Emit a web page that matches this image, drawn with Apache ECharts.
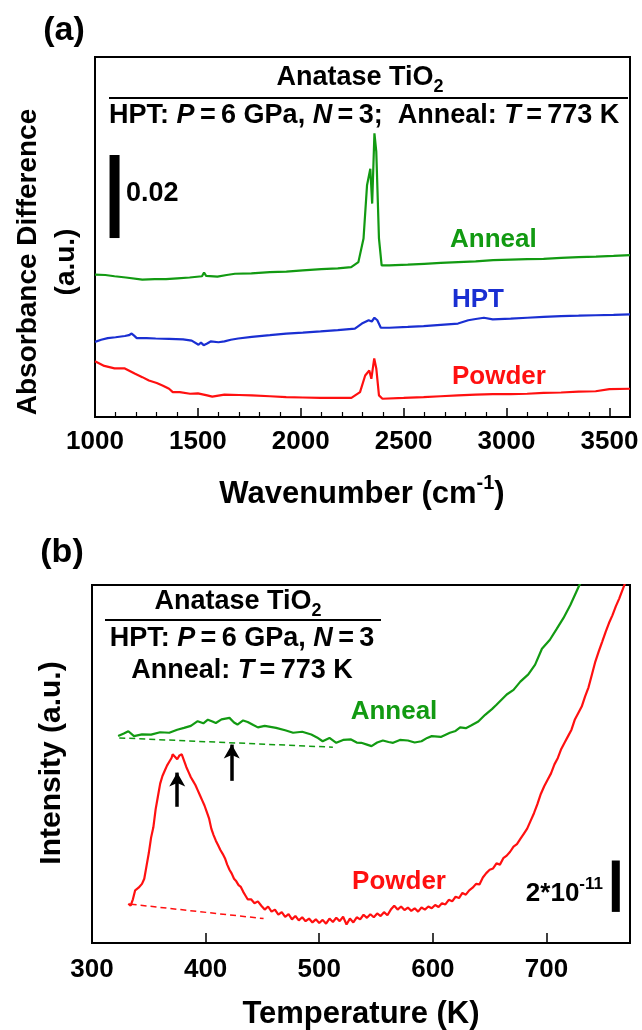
<!DOCTYPE html>
<html><head><meta charset="utf-8">
<script src="https://cdn.jsdelivr.net/npm/echarts@6/dist/echarts.min.js"></script>
<style>html,body{margin:0;padding:0;background:#fff}#c{width:642px;height:1030px}</style>
</head><body><div id="c"></div>
<script>
// ---------- Panel (a): absorbance difference vs wavenumber ----------
const aAnnealX = [1000,1050,1095,1150,1230,1290,1345,1400,1460,1520,1530,1540,1595,1640,1680,1760,1850,1930,2010,2100,2180,2245,2280,2305,2322,2338,2347,2358,2367,2380,2393,2430,2520,2600,2680,2765,2850,2935,3020,3100,3180,3265,3350,3435,3520,3600];
const aAnnealY = [0.0343,0.0342,0.0339,0.0336,0.0331,0.0332,0.0332,0.0334,0.0336,0.0339,0.0348,0.0340,0.0338,0.0342,0.0345,0.0346,0.0349,0.0350,0.0353,0.0356,0.0358,0.0361,0.0373,0.0430,0.0558,0.0598,0.0514,0.0683,0.0639,0.0430,0.0365,0.0365,0.0367,0.0369,0.0371,0.0373,0.0375,0.0378,0.0379,0.0380,0.0381,0.0383,0.0385,0.0386,0.0388,0.0390];
const aHptX = [1000,1030,1062,1100,1145,1165,1178,1190,1203,1250,1295,1360,1428,1470,1503,1515,1528,1545,1562,1600,1629,1660,1696,1762,1850,1929,2010,2096,2180,2263,2297,2330,2345,2358,2372,2389,2430,2520,2597,2680,2764,2814,2850,2890,2933,3020,3100,3180,3265,3350,3433,3520,3600];
const aHptY = [0.0181,0.0186,0.0190,0.0192,0.0195,0.0197,0.0201,0.0196,0.0190,0.0190,0.0189,0.0188,0.0187,0.0184,0.0174,0.0179,0.0173,0.0177,0.0182,0.0180,0.0182,0.0186,0.0189,0.0193,0.0197,0.0201,0.0203,0.0206,0.0209,0.0213,0.0225,0.0233,0.0230,0.0239,0.0233,0.0215,0.0215,0.0217,0.0219,0.0222,0.0225,0.0233,0.0236,0.0239,0.0235,0.0237,0.0239,0.0241,0.0243,0.0244,0.0245,0.0246,0.0247];
const aPowderX = [1000,1045,1095,1145,1195,1230,1262,1300,1328,1360,1378,1412,1462,1500,1545,1570,1629,1700,1762,1850,1929,2010,2096,2180,2246,2288,2313,2333,2343,2357,2367,2380,2397,2500,2597,2680,2764,2850,2933,3020,3100,3180,3265,3350,3433,3500,3600];
const aPowderY = [0.0134,0.0123,0.0117,0.0117,0.0104,0.0096,0.0088,0.0082,0.0076,0.0068,0.0060,0.0060,0.0056,0.0057,0.0052,0.0049,0.0054,0.0053,0.0052,0.0050,0.0048,0.0047,0.0046,0.0046,0.0046,0.0060,0.0100,0.0112,0.0092,0.0141,0.0117,0.0052,0.0044,0.0046,0.0048,0.0050,0.0052,0.0054,0.0055,0.0055,0.0056,0.0058,0.0059,0.0061,0.0062,0.0067,0.0068];
const aScaleBarX = [1095,1095];
const aScaleBarY = [0.0431,0.0631];   // 0.02
const aTicks = [1000,1500,2000,2500,3000,3500];

// ---------- Panel (b): TDS intensity vs temperature (units of 1e-11) ----------
const bAnnealX = [323,328,332,337,344,352,360,368,375,381,387,393,398,402,406,409,414,421,425,428,433,437,442,446,452,462,470,477,485,493,498,503,509,515,521,528,533,537,542,546,551,556,561,565,571,578,584,590,595,599,607,615,620,624,629,634,640,646,652,656,665,671,677,684,690,696,703,709,715,721,729,740];
const bAnnealY = [8.05,8.15,8.24,8.05,8.12,8.11,8.20,8.18,8.30,8.37,8.45,8.63,8.55,8.69,8.62,8.56,8.70,8.76,8.58,8.50,8.66,8.60,8.48,8.39,8.45,8.37,8.28,8.18,8.22,8.11,8.00,7.85,7.98,7.79,7.90,7.92,7.80,7.79,7.72,7.66,7.80,7.88,7.82,7.79,7.90,7.88,7.80,7.85,7.98,8.05,8.02,8.18,8.25,8.39,8.36,8.47,8.62,8.88,9.10,9.27,9.67,9.85,10.17,10.45,10.83,11.45,11.80,12.22,12.65,13.15,13.93,14.80];
const bPowderX = [332,334,336,338,341,344,346,348,350,352,354,356,358,360,362,364,366,368,370,371,373,375,377,379,381,383,385,387,389,391,393,395,397,399,401,403,405,407,409,411,413,415,417,419,421,423,425,427,429,431,433,435,437,440,443,446,449,452,455,458,461,464,467,470,473,476,479,482,485,488,491,494,497,500,503,506,509,512,515,518,521,524,527,530,533,536,539,542,545,548,551,554,557,560,563,566,569,572,575,578,581,584,587,590,593,596,599,602,605,608,611,614,617,620,623,626,629,632,635,638,641,644,647,650,653,656,659,662,665,668,671,674,677,680,683,686,689,692,695,698,701,704,707,710,713,716,719,722,725,728,731,734,737,740,743,746,749,752,755,758,761,764,767,770,773.5];
const bPowderY = [1.53,1.45,1.70,2.05,2.15,2.30,2.50,3.00,3.50,4.10,4.50,5.20,5.70,6.20,6.50,6.70,6.90,7.05,7.20,7.34,7.25,7.15,7.30,7.34,7.10,6.85,6.65,6.45,6.30,6.15,5.95,5.75,5.55,5.35,5.10,4.85,4.45,4.20,3.98,3.80,3.62,3.47,3.30,3.05,2.85,2.70,2.50,2.40,2.25,2.18,2.00,1.85,1.70,1.70,1.55,1.62,1.45,1.30,1.42,1.22,1.30,1.10,1.20,1.02,1.12,0.92,1.05,0.88,1.00,0.85,0.95,0.80,0.92,0.78,0.90,0.75,0.95,0.82,0.98,0.85,1.02,0.72,0.95,0.80,1.00,0.92,1.10,0.98,1.12,1.00,1.15,1.05,1.20,1.08,1.30,1.45,1.30,1.42,1.28,1.38,1.25,1.35,1.22,1.38,1.30,1.42,1.35,1.48,1.40,1.55,1.50,1.68,1.62,1.80,1.75,1.95,1.88,2.05,2.15,2.30,2.28,2.55,2.72,2.85,2.90,3.10,3.05,3.30,3.40,3.55,3.75,3.85,4.05,4.25,4.45,4.75,5.05,5.40,5.80,6.10,6.35,6.60,6.95,7.20,7.55,7.80,8.05,8.30,8.70,8.95,9.20,9.60,9.95,10.45,10.95,11.35,11.72,12.10,12.45,12.75,13.10,13.40,13.75,14.10,14.40];
const bAnnealBaseX = [324,512];
const bAnnealBaseY = [7.98,7.62];
const bPowderBaseX = [334,451];
const bPowderBaseY = [1.51,0.95];
const bArrowX = [375,423];
const bArrowTail = [5.30,6.31];
const bArrowHead = [6.63,7.72];
const bScaleBarX = [761,761];
const bScaleBarY = [1.21,3.21];     // 2*10^-11
const bTicks = [300,400,500,600,700];

const zip = (xs, ys) => xs.map((x, i) => [x, ys[i]]);

const GREEN = '#129a12', BLUE = '#1a2fd2', RED = '#ff1010';
const FONT = '"Liberation Sans", Arial, Helvetica, sans-serif';

function rich(fs, color) {
  const c = color || '#000';
  const lh = fs + 10;
  const sm = Math.round(fs * 0.66);
  return {
    n: {fontSize: fs, fontWeight: 'bold', fontFamily: FONT, fill: c, color: c, lineHeight: lh},
    i: {fontSize: fs, fontWeight: 'bold', fontStyle: 'italic', fontFamily: FONT, fill: c, color: c, lineHeight: lh},
    sub: {fontSize: sm, fontWeight: 'bold', fontFamily: FONT, fill: c, color: c, verticalAlign: 'bottom', lineHeight: lh},
    sup: {fontSize: sm, fontWeight: 'bold', fontFamily: FONT, fill: c, color: c, verticalAlign: 'top', lineHeight: lh}
  };
}
function txt(x, y, text, fs, opts) {
  opts = opts || {};
  return {
    type: 'text', x: x, y: y, rotation: opts.rotation || 0, z: 100,
    style: {
      text: text, rich: rich(fs, opts.color),
      font: 'bold ' + fs + 'px ' + FONT, fill: opts.color || '#000',
      align: opts.align || 'center', verticalAlign: 'middle',
      lineHeight: opts.lineHeight || fs + 10
    }
  };
}
function hline(x1, x2, y) {
  return {type: 'line', z: 100, shape: {x1: x1, y1: y, x2: x2, y2: y}, style: {stroke: '#000', lineWidth: 2}};
}

const A = {left: 95, top: 57, right: 12, bottom: 1030 - 417};
const B = {left: 92, top: 585, right: 12, bottom: 1030 - 943};

const axisLabel = {fontSize: 26, fontWeight: 'bold', fontFamily: FONT, color: '#000', showMaxLabel: false};
const LW = 2.2;

const option = {
  animation: false,
  backgroundColor: '#fff',
  grid: [
    Object.assign({show: true, borderColor: '#000', borderWidth: 2, containLabel: false}, A),
    Object.assign({show: true, borderColor: '#000', borderWidth: 2, containLabel: false}, B)
  ],
  xAxis: [
    {gridIndex: 0, type: 'value', min: 1000, max: 3600, interval: 500,
     axisLine: {show: true, lineStyle: {color: '#000', width: 2}},
     axisTick: {show: true, inside: true, length: 9, lineStyle: {color: '#000', width: 1.5}},
     minorTick: {show: true, splitNumber: 5, length: 5, lineStyle: {color: '#000', width: 1.2}},
     splitLine: {show: false}, minorSplitLine: {show: false},
     axisLabel: Object.assign({margin: 12, formatter: v => aTicks.includes(v) ? String(v) : ''}, axisLabel)},
    {gridIndex: 1, type: 'value', min: 300, max: 773.5, interval: 100,
     axisLine: {show: true, lineStyle: {color: '#000', width: 2}},
     axisTick: {show: true, inside: true, length: 10, lineStyle: {color: '#000', width: 1.5}},
     splitLine: {show: false},
     axisLabel: Object.assign({margin: 14, formatter: v => bTicks.includes(v) ? String(v) : ''}, axisLabel)}
  ],
  yAxis: [
    {gridIndex: 0, type: 'value', min: 0, max: 0.0867, axisLine: {show: false}, axisTick: {show: false}, axisLabel: {show: false}, splitLine: {show: false}},
    {gridIndex: 1, type: 'value', min: 0, max: 13.93, axisLine: {show: false}, axisTick: {show: false}, axisLabel: {show: false}, splitLine: {show: false}}
  ],
  series: [
    {type: 'line', xAxisIndex: 0, yAxisIndex: 0, data: zip(aAnnealX, aAnnealY), showSymbol: false, lineStyle: {color: GREEN, width: LW}},
    {type: 'line', xAxisIndex: 0, yAxisIndex: 0, data: zip(aHptX, aHptY), showSymbol: false, lineStyle: {color: BLUE, width: LW}},
    {type: 'line', xAxisIndex: 0, yAxisIndex: 0, data: zip(aPowderX, aPowderY), showSymbol: false, lineStyle: {color: RED, width: LW}},
    {type: 'line', xAxisIndex: 0, yAxisIndex: 0, data: zip(aScaleBarX, aScaleBarY), showSymbol: false, lineStyle: {color: '#000', width: 10, cap: 'butt'}},

    {type: 'line', xAxisIndex: 1, yAxisIndex: 1, data: zip(bAnnealX, bAnnealY), showSymbol: false, lineStyle: {color: GREEN, width: LW}},
    {type: 'line', xAxisIndex: 1, yAxisIndex: 1, data: zip(bPowderX, bPowderY), showSymbol: false, lineStyle: {color: RED, width: LW}},
    {type: 'line', xAxisIndex: 1, yAxisIndex: 1, data: zip(bAnnealBaseX, bAnnealBaseY), showSymbol: false, lineStyle: {color: GREEN, width: 1.5, type: [6, 4]}},
    {type: 'line', xAxisIndex: 1, yAxisIndex: 1, data: zip(bPowderBaseX, bPowderBaseY), showSymbol: false, lineStyle: {color: RED, width: 1.5, type: [6, 4]}},
    {type: 'line', xAxisIndex: 1, yAxisIndex: 1, data: zip(bScaleBarX, bScaleBarY), showSymbol: false, lineStyle: {color: '#000', width: 8, cap: 'butt'}},
    {type: 'line', xAxisIndex: 1, yAxisIndex: 1, data: [], showSymbol: false,
     markLine: {silent: true, symbol: ['none', 'arrow'], symbolSize: [12, 14], label: {show: false},
       lineStyle: {color: '#000', width: 3.5, type: 'solid'},
       data: bArrowX.map((x, i) => [{coord: [x, bArrowTail[i]]}, {coord: [x, bArrowHead[i]]}])}}
  ],
  graphic: [
    // panel (a)
    txt(64, 31, '{n|(a)}', 34),
    txt(360, 78, '{n|Anatase TiO}{sub|2}', 27),
    hline(109, 628, 98),
    txt(109, 116, '{n|HPT: }{i|P}{n|\u2009=\u20096 GPa, }{i|N}{n|\u2009=\u20093;  Anneal: }{i|T}{n|\u2009=\u2009773 K}', 27, {align: 'left'}),
    txt(126, 194, '{n|0.02}', 27, {align: 'left'}),
    txt(450, 240, '{n|Anneal}', 26, {align: 'left', color: GREEN}),
    txt(452, 300, '{n|HPT}', 26, {align: 'left', color: BLUE}),
    txt(452, 377, '{n|Powder}', 26, {align: 'left', color: RED}),
    txt(362, 494, '{n|Wavenumber (cm}{sup|-1}{n|)}', 31),
    txt(47, 262, '{n|Absorbance Difference}\n{n|(a.u.)}', 28, {rotation: Math.PI / 2, lineHeight: 37}),
    // panel (b)
    txt(62, 553, '{n|(b)}', 34),
    txt(238, 602, '{n|Anatase TiO}{sub|2}', 27),
    hline(105, 381, 620),
    txt(242, 639, '{n|HPT: }{i|P}{n|\u2009=\u20096 GPa, }{i|N}{n|\u2009=\u20093}', 27),
    txt(242, 671, '{n|Anneal: }{i|T}{n|\u2009=\u2009773 K}', 27),
    txt(394, 712, '{n|Anneal}', 26, {color: GREEN}),
    txt(399, 882, '{n|Powder}', 26, {color: RED}),
    txt(603, 894, '{n|2*10}{sup|-11}', 26, {align: 'right'}),
    txt(361, 1014, '{n|Temperature (K)}', 31),
    txt(52, 763, '{n|Intensity (a.u.)}', 30, {rotation: Math.PI / 2})
  ]
};

const chart = echarts.init(document.getElementById('c'), null, {renderer: 'canvas'});
chart.setOption(option);
</script>
</body></html>
